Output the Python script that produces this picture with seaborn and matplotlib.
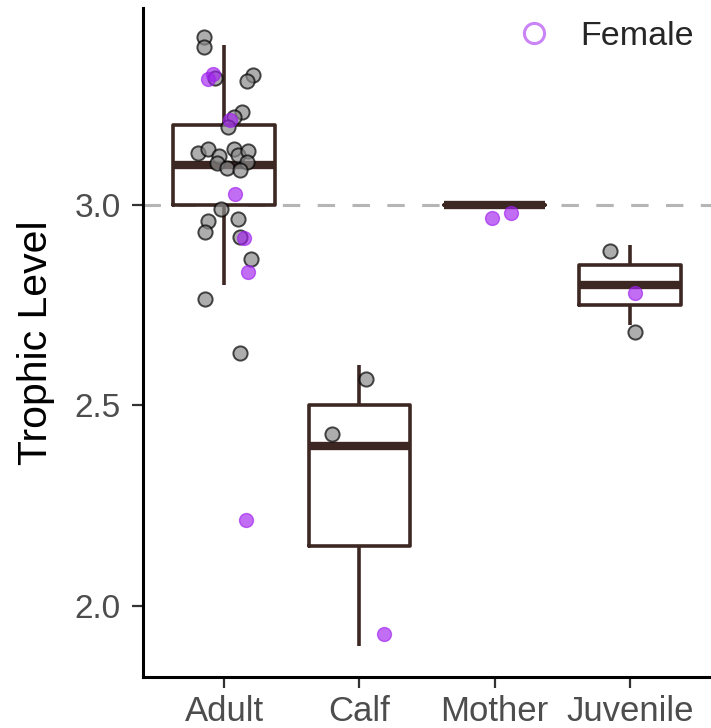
import numpy as np
import pandas as pd
import matplotlib
matplotlib.use("Agg")
import matplotlib.pyplot as plt
import seaborn as sns
from matplotlib.lines import Line2D

# Life-stage categories
groups = ["Adult", "Calf", "Mother", "Juvenile"]

# Five-number summaries per group (whisker low, Q1, median, Q3, whisker high)
box_min = [2.80, 1.90, 3.00, 2.70]
box_q1 = [3.00, 2.15, 3.00, 2.75]
box_med = [3.10, 2.40, 3.00, 2.80]
box_q3 = [3.20, 2.50, 3.00, 2.85]
box_max = [3.40, 2.60, 3.00, 2.90]

# Individual trophic levels: non-female animals
other_group = ["Adult"] * 26 + ["Calf"] * 2 + ["Juvenile"] * 2
other_tl = [3.419, 3.394, 3.317, 3.324, 3.309, 3.232, 3.219, 3.195, 3.130, 3.140,
            3.122, 3.105, 3.092, 3.140, 3.125, 3.135, 3.107, 3.087, 2.990, 2.960,
            2.933, 2.965, 2.920, 2.865, 2.766, 2.631,
            2.566, 2.429,
            2.885, 2.683]
other_jitter = [-0.15, -0.15, -0.07, 0.21, 0.17, 0.13, 0.07, 0.03, -0.19, -0.12,
                -0.04, -0.05, 0.02, 0.07, 0.10, 0.18, 0.17, 0.12, -0.02, -0.12,
                -0.14, 0.10, 0.12, 0.20, -0.14, 0.12,
                0.05, -0.20,
                -0.15, 0.04]

# Individual trophic levels: females
female_group = ["Adult"] * 7 + ["Calf"] + ["Mother"] * 2 + ["Juvenile"]
female_tl = [3.314, 3.327, 3.212, 3.027, 2.918, 2.833, 2.214,
             1.930,
             2.968, 2.980,
             2.780]
female_jitter = [-0.12, -0.08, 0.04, 0.08, 0.15, 0.18, 0.16,
                 0.18,
                 -0.02, 0.12,
                 0.04]

BOX = "#3d2723"
PURPLE = "#A020F0"

sns.set_theme(style="ticks")
plt.rcParams["font.family"] = ["Liberation Sans", "DejaVu Sans"]

# Long-form table whose quartiles reproduce the summaries above
box_rows = []
for g, a, b, c, d, e in zip(groups, box_min, box_q1, box_med, box_q3, box_max):
    for v in (a, b, c, d, e):
        box_rows.append({"group": g, "tl": v})
box_df = pd.DataFrame(box_rows)

other_df = pd.DataFrame({"group": other_group, "tl": other_tl, "jit": other_jitter})
other_df["xpos"] = other_df["group"].map(groups.index) + other_df["jit"]
female_df = pd.DataFrame({"group": female_group, "tl": female_tl, "jit": female_jitter})
female_df["xpos"] = female_df["group"].map(groups.index) + female_df["jit"]

fig = plt.figure(figsize=(7.11, 7.28), dpi=100)
ax = fig.add_axes([0.2011, 0.070, 0.7989, 0.919])

ax.axhline(3.0, color="#b5b5b5", lw=2.2, ls=(0, (5.7, 5.7)), zorder=0)

sns.boxplot(data=box_df, x="group", y="tl", order=groups, width=0.75,
            whis=(0, 100), fill=False, color=BOX, linewidth=2.6,
            showcaps=False, showfliers=False,
            medianprops=dict(linewidth=6.0, color=BOX), ax=ax)

sns.scatterplot(data=other_df, x="xpos", y="tl", s=105, color="#8a8a8a",
                edgecolor="black", linewidth=1.4, alpha=0.7, legend=False,
                ax=ax, zorder=3)
sns.scatterplot(data=female_df, x="xpos", y="tl", s=100, color=PURPLE,
                edgecolor=PURPLE, linewidth=1.0, alpha=0.65, legend=False,
                ax=ax, zorder=4)

ax.set_xlim(-0.6, 3.6)
ax.set_ylim(1.823, 3.491)
ax.set_xticks(range(len(groups)))
ax.set_xticklabels(groups)
ax.set_yticks([2.0, 2.5, 3.0])
ax.set_yticklabels(["2.0", "2.5", "3.0"])
ax.set_xlabel("")
ax.set_ylabel("Trophic Level", fontsize=29.5, color="black", labelpad=14)

sns.despine(ax=ax)
for s in ("left", "bottom"):
    ax.spines[s].set_linewidth(2.2)
    ax.spines[s].set_color("black")
ax.tick_params(axis="both", length=8, width=1.6, color="#333333",
               labelcolor="#4d4d4d")
ax.tick_params(axis="y", labelsize=24, pad=8)
ax.tick_params(axis="x", labelsize=25, pad=5)

handle = Line2D([], [], marker="o", ls="", markerfacecolor="none",
                markeredgecolor=PURPLE, alpha=0.55, markersize=14.5,
                markeredgewidth=2.2)
ax.legend(handles=[handle], labels=["Female"], loc="center right",
          frameon=False, fontsize=24.5, handlelength=2.0, handletextpad=0.35,
          borderpad=0, borderaxespad=0, bbox_to_anchor=(0.970, 0.958))

fig.savefig("out.png", dpi=100)
